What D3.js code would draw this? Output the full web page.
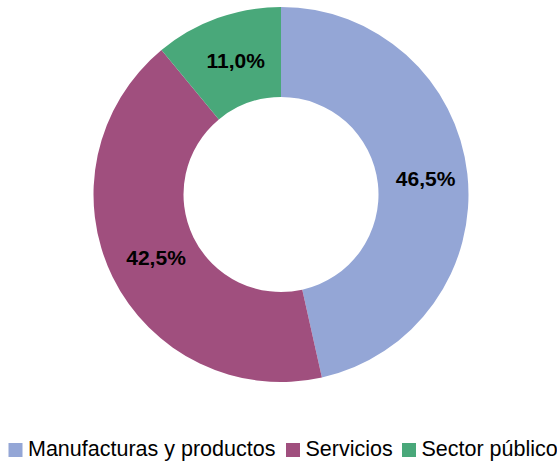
<!DOCTYPE html>
<html>
<head>
<meta charset="utf-8">
<script src="https://cdn.jsdelivr.net/npm/d3@7"></script>
<style>
  html, body { margin: 0; padding: 0; background: #fff; }
  svg { display: block; }
</style>
</head>
<body>
<svg id="chart" width="557" height="461"></svg>
<script>
// Distribución por sector
const categories = ["Manufacturas y productos", "Servicios", "Sector público"];
const shares = [46.5, 42.5, 11.0];
const labels = ["46,5%", "42,5%", "11,0%"];
const colors = ["#94A6D6", "#A04F7E", "#49A87A"];

const svg = d3.select("#chart");
const cx = 281, cy = 194.5, rOuter = 187.5, rInner = 97.5;
const font = "Liberation Sans, Arial, sans-serif";

const pie = d3.pie().sort(null).value(d => d.value);
const arcs = pie(categories.map((c, i) => ({ name: c, value: shares[i], label: labels[i], color: colors[i] })));
const arc = d3.arc().innerRadius(rInner).outerRadius(rOuter);

const g = svg.append("g").attr("transform", `translate(${cx},${cy})`);
g.selectAll("path.slice")
  .data(arcs)
  .join("path")
  .attr("class", "slice")
  .attr("d", arc)
  .attr("fill", d => d.data.color);

// Value labels at the slice centroids
g.selectAll("text.val")
  .data(arcs)
  .join("text")
  .attr("class", "val")
  .attr("transform", d => `translate(${arc.centroid(d)})`)
  .attr("text-anchor", "middle")
  .attr("dx", 3)
  .attr("dy", "0.35em")
  .attr("font-family", font)
  .attr("font-weight", "bold")
  .attr("font-size", 21)
  .attr("fill", "#000")
  .text(d => d.data.label);

// Legend
const legend = svg.append("g");
const legendX = [8.5, 286, 402];
categories.forEach((c, i) => {
  legend.append("rect")
    .attr("x", legendX[i]).attr("y", 443)
    .attr("width", 14).attr("height", 14)
    .attr("fill", colors[i]);
  legend.append("text")
    .attr("x", legendX[i] + 19.5).attr("y", 456)
    .attr("font-family", font)
    .attr("font-size", 21.5)
    .attr("fill", "#000")
    .text(c);
});
</script>
</body>
</html>
